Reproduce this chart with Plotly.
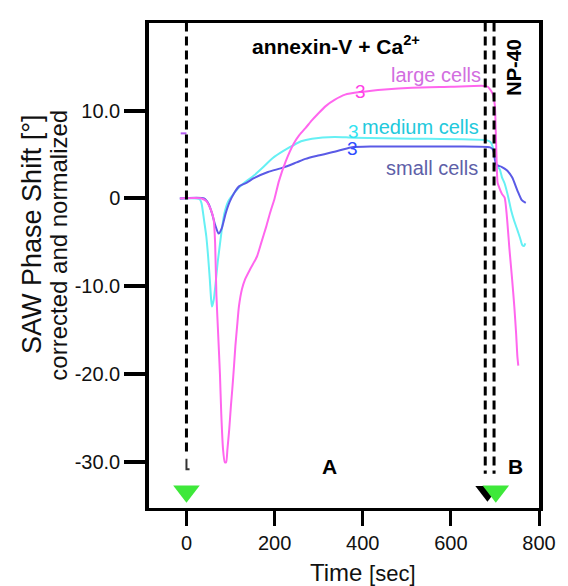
import plotly.graph_objects as go

# ---------------- data ----------------
t_small = [-15, 40, 50, 58, 65, 73, 80, 89, 98, 108, 120, 137, 153, 185, 219, 250, 270, 292, 336, 373,
           420, 512, 600, 689, 696, 700, 704, 715, 727, 739, 751, 761, 770]
v_small = [0, 0, -0.6, -1.7, -3.0, -4.0, -3.4, -1.7, -0.4, 0.6, 1.4, 1.8, 2.3, 3.0, 3.5, 4.1, 4.5, 4.8, 5.3, 5.8,
           5.9, 5.9, 5.9, 5.8, 5.5, 4.4, 3.8, 3.6, 3.2, 2.4, 0.9, -0.2, -0.5]

t_medium = [-15, 23, 30, 34, 40, 45, 49, 53, 56, 58, 62, 67, 71, 75, 80, 86, 95, 108, 120, 137, 153, 175, 196,
            220, 241, 260, 285, 336, 380, 512, 682, 690, 696, 700, 705, 711, 716, 722, 730, 737, 744, 751, 757,
            762, 766, 769]
v_medium = [0, 0, -0.1, -0.5, -2.5, -4.3, -6.5, -9.2, -11.5, -12.3, -11.5, -9.2, -7.2, -5.6, -3.6, -1.7, -0.3,
            0.6, 1.3, 2.0, 2.6, 3.6, 4.6, 5.4, 6.0, 6.5, 6.8, 7.0, 6.9, 6.8, 6.6, 6.4, 5.7, 4.6, 3.7, 3.3, 2.4,
            1.7, 0.2, -1.4, -2.6, -3.6, -4.5, -5.3, -5.4, -5.1]

t_large = [-15, 34, 45, 53, 60, 62, 65, 68, 72, 76, 79, 83, 87, 90, 93, 97, 101, 104, 108, 111, 115, 119, 126,
           133, 145, 160, 170, 181, 190, 200, 210, 225, 243, 256, 270, 285, 298, 316, 336, 360, 395, 450, 512,
           600, 674, 684, 689, 695, 698, 700, 702, 704, 706, 710, 716, 722, 727, 733, 739, 744, 748, 751, 753]
v_large = [0, 0, -0.3, -1.0, -2.0, -2.5, -5.0, -11.0, -15.5, -20.0, -24.5, -28.5, -30.0, -30.0, -28.5, -26.3,
           -23.5, -21.7, -19.0, -16.8, -14.5, -12.3, -10.3, -9.2, -8.0, -6.6, -5.0, -3.2, -1.6, 0.0, 2.0, 4.2,
           6.2, 7.2, 8.0, 8.9, 9.6, 10.5, 11.2, 11.8, 12.1, 12.4, 12.6, 12.7, 12.8, 12.7, 12.4, 11.9, 11.2, 10.5,
           7.5, 4.0, 1.8, 1.2, 0.5, 0.1, -2.0, -5.8, -9.2, -12.3, -15.3, -18.0, -19.0]

# short magenta reference mark before injection
t_mark = [-13, 0]
v_mark = [7.4, 7.4]

# event lines (dashed) and injection arrows
event_times = [0, 678, 698]
event_top = 20
event_bottom = [-29.0, -31.3, -31.3]
arrow_green_t = [0, 702]
arrow_black_t = [683]
arrow_v = -33.3

# "3"-shaped marks on the plateaus
mark3_t = [395, 378, 376]
mark3_v = [12.2, 7.6, 5.7]
mark3_colors = ["#ff3fe6", "#33e3f0", "#2f4cff"]

x_ticks = [0, 200, 400, 600, 800]
y_ticks = [20, 10, 0, -10, -20, -30]
y_ticktext = ["20.0", "10.0", "0", "-10.0", "-20.0", "-30.0"]

FONT = "Liberation Sans, Arial, Helvetica, sans-serif"
C_LARGE = "#ff66ee"
C_MED = "#66f0f4"
C_SMALL = "#5a5ae6"

fig = go.Figure()

for t, v, c in [(t_medium, v_medium, C_MED), (t_small, v_small, C_SMALL), (t_large, v_large, C_LARGE)]:
    fig.add_trace(go.Scatter(x=t, y=v, mode="lines", line=dict(color=c, width=2, shape="spline", smoothing=0.6),
                             hoverinfo="skip", showlegend=False))

fig.add_trace(go.Scatter(x=t_mark, y=v_mark, mode="lines", line=dict(color="#b25cf0", width=2),
                         hoverinfo="skip", showlegend=False))

for et, eb in zip(event_times, event_bottom):
    fig.add_trace(go.Scatter(x=[et, et], y=[event_top, eb], mode="lines",
                             line=dict(color="black", width=3, dash="9px,5px"),
                             hoverinfo="skip", showlegend=False))

# small corner mark at the bottom of the first event line
fig.add_trace(go.Scatter(x=[0, 0, 7], y=[-29.6, -30.8, -30.8], mode="lines",
                         line=dict(color="#333", width=2), hoverinfo="skip", showlegend=False))

fig.add_trace(go.Scatter(x=arrow_black_t, y=[arrow_v], mode="markers",
                         marker=dict(symbol="triangle-down", size=21, color="black"),
                         hoverinfo="skip", showlegend=False))
fig.add_trace(go.Scatter(x=arrow_green_t, y=[arrow_v] * len(arrow_green_t), mode="markers",
                         marker=dict(symbol="triangle-down", size=23, color="#3ee83a"),
                         hoverinfo="skip", showlegend=False))

for t, v, c in zip(mark3_t, mark3_v, mark3_colors):
    fig.add_annotation(x=t, y=v, text="3", showarrow=False, font=dict(family=FONT, size=19, color=c),
                       xanchor="center", yanchor="middle")

labels = [
    dict(x=340, y=17.4, text="<b>annexin-V + Ca<sup>2+</sup></b>", size=21, color="black", xanchor="center", angle=0),
    dict(x=672, y=14.0, text="large cells", size=20, color="#d26ee0", xanchor="right", angle=0),
    dict(x=668, y=8.1, text="medium cells", size=20, color="#22c9dc", xanchor="right", angle=0),
    dict(x=665, y=3.5, text="small cells", size=20, color="#5e5fa8", xanchor="right", angle=0),
    dict(x=325, y=-30.5, text="<b>A</b>", size=21, color="black", xanchor="center", angle=0),
    dict(x=746, y=-30.5, text="<b>B</b>", size=21, color="black", xanchor="center", angle=0),
    dict(x=744, y=14.9, text="<b>NP-40</b>", size=20, color="black", xanchor="center", angle=-90),
]
for L in labels:
    fig.add_annotation(x=L["x"], y=L["y"], text=L["text"], showarrow=False, textangle=L["angle"],
                       font=dict(family=FONT, size=L["size"], color=L["color"]),
                       xanchor=L["xanchor"], yanchor="middle")

# axis titles
fig.add_annotation(xref="paper", yref="paper", x=-0.30, y=0.563, text="SAW Phase Shift [°]", textangle=-90,
                   showarrow=False, font=dict(family=FONT, size=27, color="#111"), xanchor="center", yanchor="middle")
fig.add_annotation(xref="paper", yref="paper", x=-0.232, y=0.542, text="corrected and normalized", textangle=-90,
                   showarrow=False, font=dict(family=FONT, size=24, color="#111"), xanchor="center", yanchor="middle")
fig.add_annotation(xref="paper", yref="paper", x=0.549, y=-0.134, text="Time <span style='font-size:22px'>[sec]</span>",
                   showarrow=False, font=dict(family=FONT, size=24, color="#111"), xanchor="center", yanchor="middle")

fig.update_layout(
    width=568, height=586,
    margin=dict(l=149, r=22, t=23, b=78),
    plot_bgcolor="white", paper_bgcolor="white",
    showlegend=False,
    font=dict(family=FONT, size=20, color="#111"),
    xaxis=dict(range=[-85, 800], tickvals=x_ticks, ticks="outside", ticklen=15, tickwidth=3, tickcolor="black",
               showline=True, linewidth=3, linecolor="black", mirror=True, showgrid=False, zeroline=False,
               tickfont=dict(family=FONT, size=20, color="#111")),
    yaxis=dict(range=[-35.2, 19.95], tickvals=y_ticks, ticktext=y_ticktext, ticks="outside", ticklen=21,
               tickwidth=3.5, tickcolor="black", showline=True, linewidth=3.5, linecolor="black", mirror=True,
               showgrid=False, zeroline=False, tickfont=dict(family=FONT, size=20, color="#111")),
)

fig.write_html("out.html")
